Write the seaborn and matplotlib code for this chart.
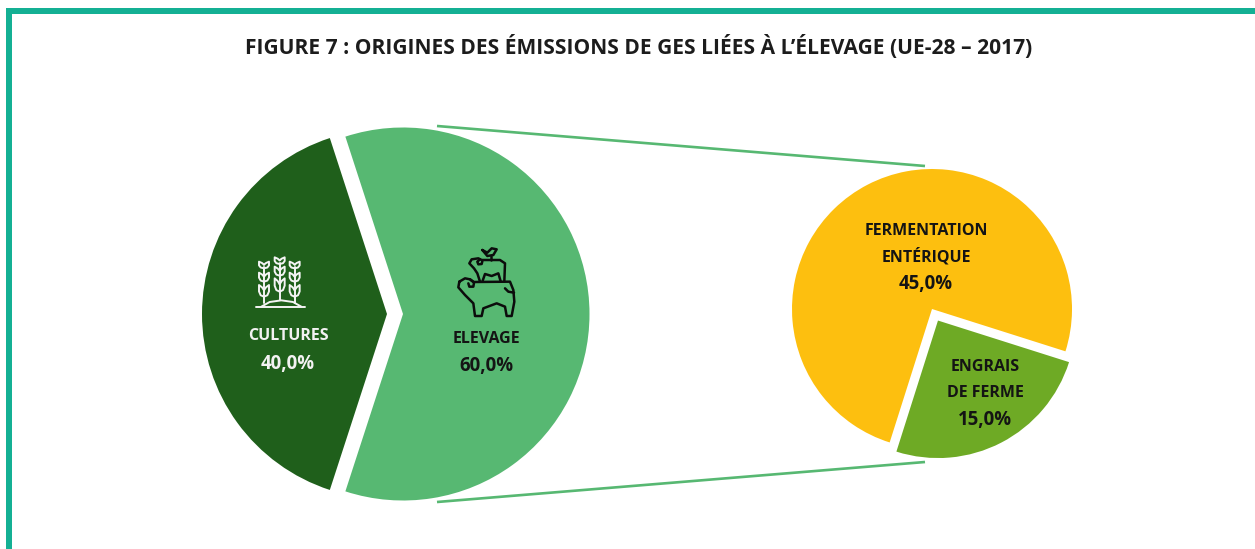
import matplotlib
matplotlib.use("Agg")
import matplotlib.pyplot as plt
import seaborn as sns
from matplotlib.patches import Rectangle

# ---- data ----
title = "FIGURE 7 : ORIGINES DES ÉMISSIONS DE GES LIÉES À L’ÉLEVAGE (UE-28 – 2017)"
main_names = ["CULTURES", "ELEVAGE"]
main_values = [40.0, 60.0]
main_text = ["40,0%", "60,0%"]
detail_names = ["FERMENTATION\nENTÉRIQUE", "ENGRAIS\nDE FERME"]
detail_values = [45.0, 15.0]
detail_text = ["45,0%", "15,0%"]

main_palette = sns.color_palette(["#1F5F1B", "#57B872"])
detail_palette = sns.color_palette(["#FDBF0F", "#6EAA25"])
TEAL = "#14B094"
DARK = "#141414"

sns.set_theme(style="white")
plt.rcParams["font.family"] = ["Open Sans", "DejaVu Sans"]

W, H = 1255, 549
fig = plt.figure(figsize=(W / 100, H / 100), dpi=100)
ax = fig.add_axes([0, 0, 1, 1])


def Y(py):
    return H - py


# connector lines (behind the pies)
for y0, y1 in ((126, 166), (502, 462)):
    ax.plot([437, 925], [Y(y0), Y(y1)], color="#57B872", lw=1.9, solid_capstyle="butt", zorder=1)

# main pie (explode is in axis units here, since the axes are in pixels)
w_main, _ = ax.pie(main_values, colors=main_palette, startangle=108, center=(395, Y(314)), radius=186.5,
                   explode=[8, 8], wedgeprops={"linewidth": 0, "zorder": 2}, frame=False)
w_main[0].set_radius(185)
# detail pie
w_det, _ = ax.pie(detail_values, colors=detail_palette, startangle=-17.6, center=(932, Y(309)), radius=140,
                  explode=[0, 13], wedgeprops={"linewidth": 0, "zorder": 2}, frame=False)
w_det[1].set_radius(137.5)

ax.set_xlim(0, W)
ax.set_ylim(0, H)
ax.set_aspect("equal")
ax.axis("off")

# frame
ax.add_patch(Rectangle((6, -5), 5.5, Y(8) + 5, color=TEAL, lw=0, zorder=5))
ax.add_patch(Rectangle((6, Y(13.5)), W, 5.5, color=TEAL, lw=0, zorder=5))

ax.text(638.5, Y(47), title, fontsize=15.1, fontweight="bold", color="#1c1c1c", ha="center", va="center")


def lab(x, y, s, c, fs=11.5):
    ax.text(x, Y(y), s, fontsize=fs, fontweight="bold", color=c, ha="center", va="center", zorder=6)


PCT = 13.4
lab(288, 336, main_names[0], "#F2F2F2")
lab(288, 364, main_text[0], "#F2F2F2", PCT)
lab(486, 339, main_names[1], DARK)
lab(486, 366, main_text[1], DARK, PCT)
a, b = detail_names[0].split("\n")
lab(926, 231, a, DARK)
lab(926, 257, b, DARK)
lab(926, 284, detail_text[0], DARK, PCT)
a, b = detail_names[1].split("\n")
lab(985, 367, a, DARK)
lab(985, 393, b, DARK)
lab(985, 420, detail_text[1], DARK, PCT)


def stroke(pts, color, lw, ox, oy):
    xs = [ox + p[0] / 3 for p in pts]
    ys = [Y(oy + p[1] / 3) for p in pts]
    ax.plot(xs, ys, color=color, lw=lw, solid_joinstyle="round", solid_capstyle="round", zorder=6)


WH = "#F4F4F4"
def wheat(pts, lw=1.4):
    stroke(pts, WH, lw, 248, 250)


wheat([(25, 171), (172, 171)])
wheat([(40, 170), (65, 156), (100, 151), (135, 156), (160, 170)])
for cx, tiers, foot in ((48, ((35, 55), (68, 95), (105, 140)), 160),
                        (95, ((22, 42), (50, 77), (85, 125)), 150),
                        (140, ((35, 55), (68, 95), (105, 140)), 160)):
    wheat([(cx, tiers[0][1] - 4), (cx, foot)])
    for top, bot in tiers:
        h = bot - top
        for s in (-1, 1):
            wheat([(cx, bot), (cx + s * 10, bot - 0.12 * h), (cx + s * 15, bot - 0.45 * h),
                   (cx + s * 15, top), (cx + s * 6, top + 0.2 * h), (cx, top + 0.45 * h)])


BK = "#0c0c0c"
def animal(pts, lw=1.8):
    stroke(pts, BK, lw, 450, 240)


# sheep
animal([(28, 125), (45, 115), (60, 118), (72, 126), (180, 125), (190, 150), (193, 185), (185, 228),
        (170, 228), (165, 200), (140, 190), (100, 205), (95, 228), (75, 228), (70, 190),
        (45, 165), (25, 142), (28, 125)])
animal([(60, 118), (72, 128), (70, 140), (58, 140), (55, 130)])
animal([(165, 145), (175, 155), (192, 158)])
# middle animal
animal([(90, 125), (82, 100), (72, 85), (58, 70), (65, 58), (85, 55), (95, 60), (150, 60), (165, 70), (163, 124)])
animal([(90, 58), (82, 65), (85, 73), (95, 72), (97, 64)])
animal([(97, 125), (105, 102), (125, 108), (145, 100), (152, 124)])
# bird
animal([(97, 30), (112, 38), (125, 25), (140, 28), (130, 45), (112, 48), (97, 30)])
animal([(122, 48), (122, 60)])

fig.savefig("out.png", dpi=100, facecolor="white")
